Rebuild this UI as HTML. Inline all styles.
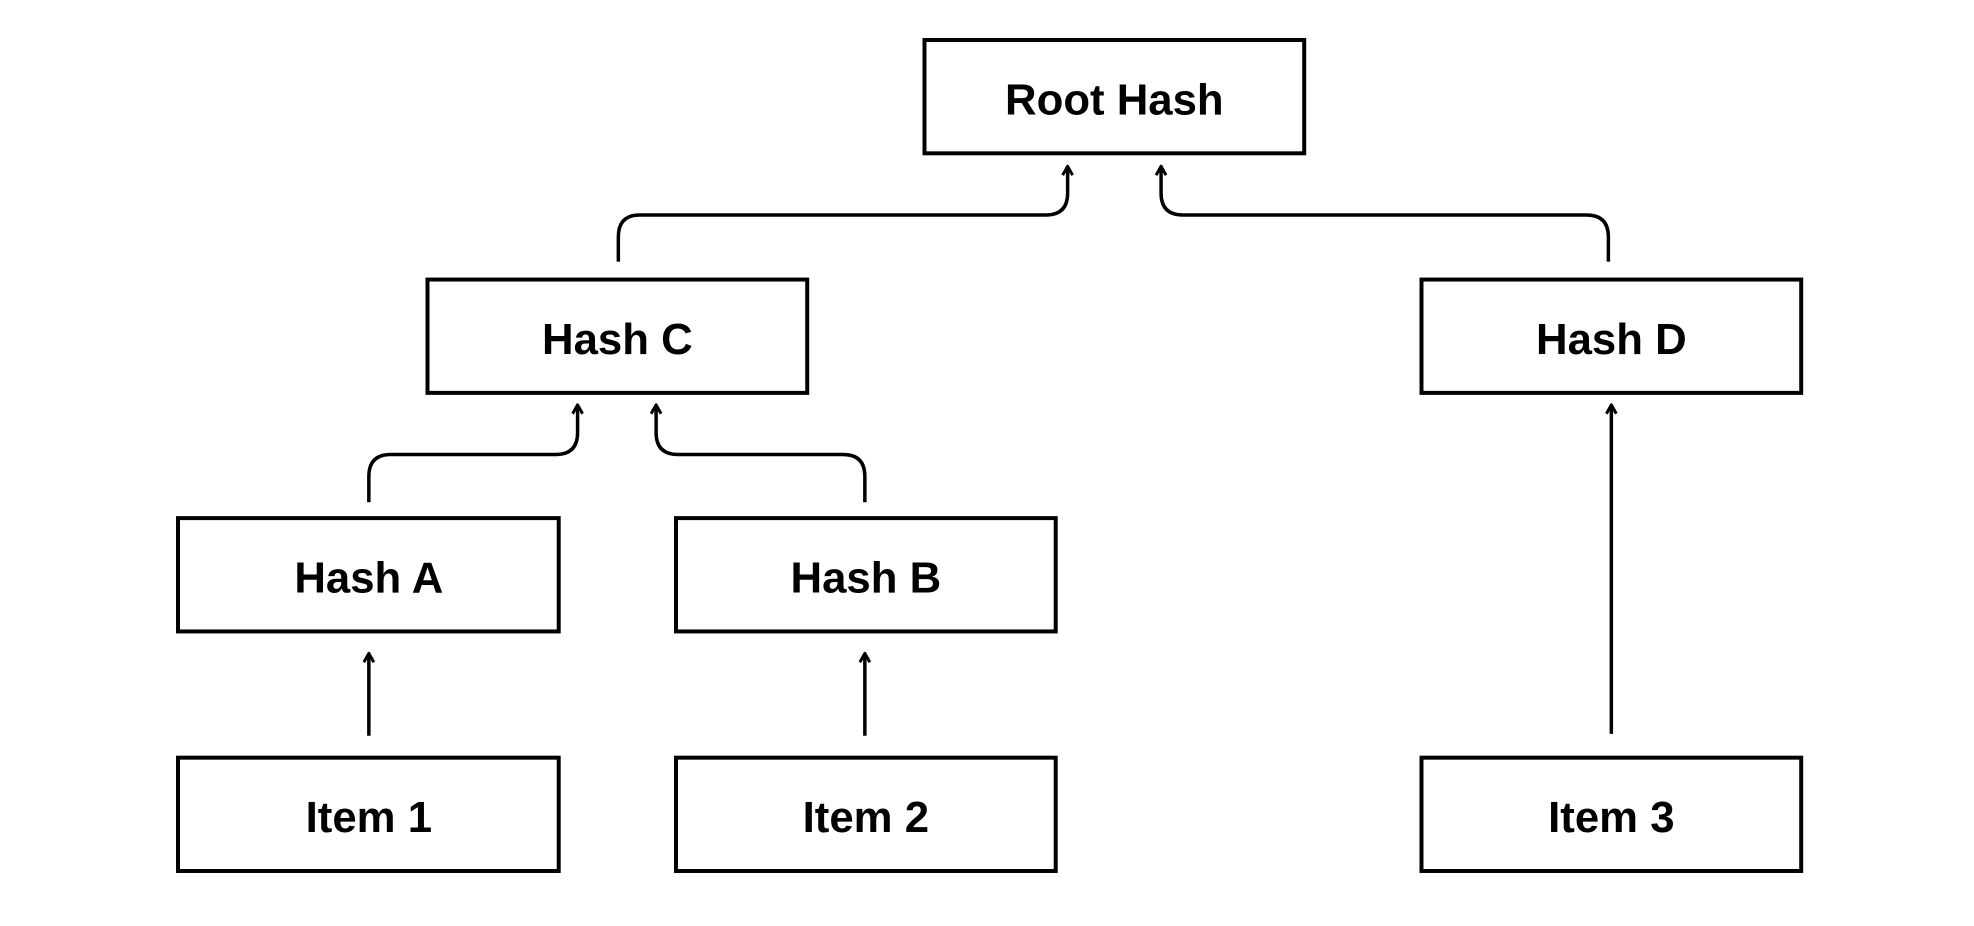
<!DOCTYPE html>
<html><head><meta charset="utf-8"><style>
html,body{margin:0;padding:0;background:#fff}
svg{display:block}
text{font-family:"Liberation Sans",sans-serif;font-weight:bold;font-size:44px;fill:#000}
</style></head><body>
<svg width="1974" height="926" viewBox="0 0 1974 926" xmlns="http://www.w3.org/2000/svg">
<g transform="translate(178,41) scale(0.994) translate(-178,-41)">
<g fill="#fff" stroke="#000" stroke-width="4">
<rect x="929" y="40" width="382" height="114"/>
<rect x="429" y="281" width="382" height="114"/>
<rect x="1429" y="281" width="382" height="114"/>
<rect x="178" y="521" width="383" height="114"/>
<rect x="679" y="521" width="382" height="114"/>
<rect x="178" y="762" width="383" height="114"/>
<rect x="679" y="762" width="382" height="114"/>
<rect x="1429" y="762" width="382" height="114"/>
</g>
<g text-anchor="middle">
<text x="1120" y="115">Root Hash</text>
<text x="620" y="356">Hash C</text>
<text x="1620" y="356">Hash D</text>
<text x="370" y="596">Hash A</text>
<text x="870" y="596">Hash B</text>
<text x="370" y="837">Item 1</text>
<text x="870" y="837">Item 2</text>
<text x="1620" y="837">Item 3</text>
</g>
<g fill="none" stroke="#000" stroke-width="3.5" stroke-linejoin="round">
<path d="M621 263 V238 Q621 216 643 216 H1051 Q1073 216 1073 194 V168"/>
<path d="M1617 263 V238 Q1617 216 1595 216 H1189 Q1167 216 1167 194 V168"/>
<path d="M370 505 V479 Q370 457 392 457 H558 Q580 457 580 435 V409"/>
<path d="M869 505 V479 Q869 457 847 457 H681 Q659 457 659 435 V409"/>
<path d="M370 740 V659"/>
<path d="M869 740 V659"/>
<path d="M1620 738 V409"/>
<g stroke-width="3">
<path d="M1068 176 L1073 167 L1078 176"/>
<path d="M1162 176 L1167 167 L1172 176"/>
<path d="M575 416 L580 407 L585 416"/>
<path d="M654 416 L659 407 L664 416"/>
<path d="M365 666 L370 657 L375 666"/>
<path d="M864 666 L869 657 L874 666"/>
<path d="M1615 416 L1620 407 L1625 416"/>
</g>
</g>
</g>
</svg>
</body></html>
